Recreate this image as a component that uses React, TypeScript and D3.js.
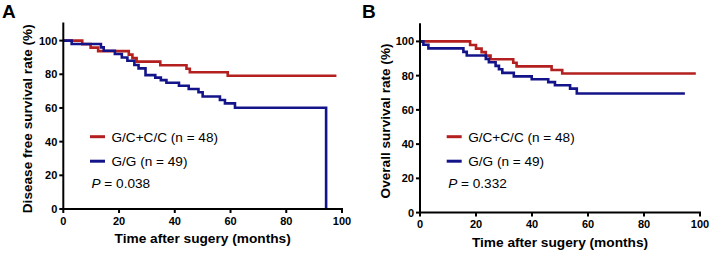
import React from "react";
import * as d3 from "d3";

const xTicks = [0, 20, 40, 60, 80, 100];
const yTicks = [0, 20, 40, 60, 80, 100];

// Panel A: disease free survival
const aRedT = [0, 6.8, 9.8, 12.5, 23.5, 24.8, 26.3, 34.8, 44.2, 45.4, 59, 98];
const aRedS = [100, 97.9, 95.8, 93.75, 91.7, 89.6, 87.5, 85.4, 83.3, 81.2, 79.1, 79.1];
const aBlueT = [0, 3, 13.5, 14.5, 18.5, 21, 23, 25.5, 27, 29.5, 33, 35, 37, 41.5, 45, 48.5, 50, 56.2, 58, 61.6, 94.3, 94.3];
const aBlueS = [100, 98, 96, 94, 92, 90, 88, 85.5, 83.5, 79.5, 78, 76.5, 75, 73.2, 71.3, 69.3, 66.8, 64.7, 62.7, 60.1, 60.1, 0];

// Panel B: overall survival
const bRedT = [0, 17.9, 20, 22, 23.5, 25.2, 33.3, 34.5, 47, 50.8, 98.5];
const bRedS = [100, 97.9, 95.8, 93.75, 91.7, 89.6, 87.5, 85.4, 83.3, 81.25, 81.25];
const bBlueT = [0, 1.2, 3, 15.5, 16.7, 23.5, 24.6, 27, 28.2, 29.4, 33.5, 39.9, 45.8, 48.2, 53.6, 56, 94.6];
const bBlueS = [100, 98, 95.9, 93.9, 91.8, 89.8, 87.8, 85.7, 83.7, 81.6, 79.6, 77.9, 76.2, 74.4, 72.4, 69.6, 69.6];

const legendLabels = ["G/C+C/C (n = 48)", "G/G (n = 49)"];
const RED = "#b3201f";
const BLUE = "#14148a";

type PanelProps = {
  letter: string;
  yTitle: string;
  pValue: string;
  x0: number; x1: number; yTop: number; y0: number; y100: number;
  letterX: number;
  yTitleX: number;
  legX: number; legY: number;
  redT: number[]; redS: number[]; blueT: number[]; blueS: number[];
};

function Panel(p: PanelProps) {
  const x = d3.scaleLinear().domain([0, 100]).range([p.x0, p.x1]);
  const y = d3.scaleLinear().domain([0, 100]).range([p.y0, p.y100]);
  const line = d3.line<[number, number]>().x(d => x(d[0])).y(d => y(d[1])).curve(d3.curveStepAfter);
  const red = line(p.redT.map((t, i) => [t, p.redS[i]] as [number, number])) || "";
  const blue = line(p.blueT.map((t, i) => [t, p.blueS[i]] as [number, number])) || "";
  const font = "Arial, 'Liberation Sans', sans-serif";
  return (
    <g fontFamily={font}>
      <text x={p.letterX} y={18} fontSize={19} fontWeight="bold">{p.letter}</text>
      <path d={red} fill="none" stroke={RED} strokeWidth={2.6} />
      <path d={blue} fill="none" stroke={BLUE} strokeWidth={2.6} />
      {/* axes */}
      <line x1={p.x0} x2={p.x0} y1={p.yTop} y2={p.y0} stroke="#000" strokeWidth={2} />
      <line x1={p.x0} x2={p.x1 + 1} y1={p.y0} y2={p.y0} stroke="#000" strokeWidth={2} />
      {yTicks.map(t => (
        <g key={"y" + t}>
          <line x1={p.x0 - 4} x2={p.x0} y1={y(t)} y2={y(t)} stroke="#000" strokeWidth={2} />
          <text x={p.x0 - 6} y={y(t) + 4} fontSize={11} fontWeight="bold" textAnchor="end">{t}</text>
        </g>
      ))}
      {xTicks.map(t => (
        <g key={"x" + t}>
          <line x1={x(t)} x2={x(t)} y1={p.y0} y2={p.y0 + 4} stroke="#000" strokeWidth={2} />
          <text x={x(t)} y={p.y0 + 15.8} fontSize={11} fontWeight="bold" textAnchor="middle">{t}</text>
        </g>
      ))}
      <text x={(p.x0 + p.x1) / 2} y={p.y0 + 34} fontSize={13.7} fontWeight="bold" textAnchor="middle">Time after sugery (months)</text>
      <text transform={`translate(${p.yTitleX},${(p.y0 + p.yTop) / 2 + 3}) rotate(-90)`} fontSize={13.6} fontWeight="bold" textAnchor="middle">{p.yTitle}</text>
      {/* legend */}
      <line x1={p.legX} x2={p.legX + 15} y1={p.legY} y2={p.legY} stroke={RED} strokeWidth={3} />
      <text x={p.legX + 21.5} y={p.legY + 4.8} fontSize={13.6}>{legendLabels[0]}</text>
      <line x1={p.legX} x2={p.legX + 15} y1={p.legY + 24.5} y2={p.legY + 24.5} stroke={BLUE} strokeWidth={3} />
      <text x={p.legX + 21.5} y={p.legY + 29.3} fontSize={13.6}>{legendLabels[1]}</text>
      <text x={p.legX + 1.5} y={p.legY + 51} fontSize={13.6}>
        <tspan fontStyle="italic">P</tspan> = {p.pValue}
      </text>
    </g>
  );
}

export default function App() {
  return (
    <svg width={714} height={253} style={{ position: "absolute", left: 0, top: 0, background: "#fff" }}>
      <rect width={714} height={253} fill="#fff" />
      <Panel letter="A" yTitle="Disease free survival rate (%)" pValue="0.038"
        x0={63.3} x1={342} yTop={22.5} y0={209} y100={40.6} letterX={2} yTitleX={32}
        legX={90} legY={136.7}
        redT={aRedT} redS={aRedS} blueT={aBlueT} blueS={aBlueS} />
      <Panel letter="B" yTitle="Overall survival rate (%)" pValue="0.332"
        x0={420} x1={700} yTop={23.3} y0={212.6} y100={41.4} letterX={362} yTitleX={390}
        legX={446.7} legY={136.7}
        redT={bRedT} redS={bRedS} blueT={bBlueT} blueS={bBlueS} />
    </svg>
  );
}
